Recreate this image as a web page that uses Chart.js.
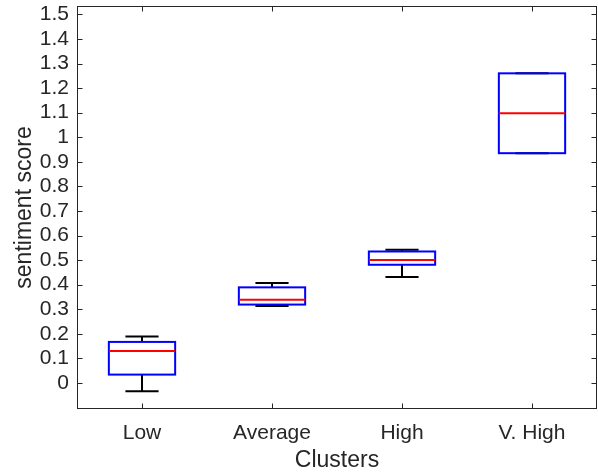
<!DOCTYPE html>
<html lang="en">
<head>
    <meta charset="UTF-8">
    <title>Clusters box plot</title>
    <script src="https://cdn.jsdelivr.net/npm/chart.js"></script>
    <style>
        body { margin: 0; background: #fff; }
    </style>
</head>
<body>
    <canvas id="boxChart" width="598" height="472"></canvas>

    <script>
        // data
        const clusters = ['Low', 'Average', 'High', 'V. High'];
        const lowerWhisker = [-0.034, 0.313, 0.431, 0.935];
        const q1 = [0.034, 0.319, 0.481, 0.935];
        const median = [0.130, 0.339, 0.500, 1.098];
        const q3 = [0.167, 0.389, 0.535, 1.260];
        const upperWhisker = [0.189, 0.407, 0.542, 1.260];
        const yTicks = [0, 0.1, 0.2, 0.3, 0.4, 0.5, 0.6, 0.7, 0.8, 0.9, 1, 1.1, 1.2, 1.3, 1.4, 1.5];

        const axisColor = '#262626';
        const fontFamily = '"Liberation Sans", Arial, sans-serif';

        // whiskers under the boxes, box outline + medians on top, frame + inward ticks last
        const boxPlotParts = {
            id: 'boxPlotParts',
            beforeDatasetsDraw(chart) {
                const ctx = chart.ctx;
                const x = chart.scales.x, y = chart.scales.y;
                const bars = chart.getDatasetMeta(0).data;
                ctx.save();
                ctx.strokeStyle = '#000';
                ctx.lineWidth = 2;
                clusters.forEach((c, i) => {
                    const cx = x.getPixelForValue(i);
                    const cap = bars[i].width / 4;
                    const pairs = [[q3[i], upperWhisker[i]], [q1[i], lowerWhisker[i]]];
                    pairs.forEach(([from, to]) => {
                        const yt = y.getPixelForValue(to);
                        ctx.beginPath();
                        ctx.moveTo(cx, y.getPixelForValue(from));
                        ctx.lineTo(cx, yt);
                        ctx.moveTo(cx - cap, yt);
                        ctx.lineTo(cx + cap, yt);
                        ctx.stroke();
                    });
                });
                ctx.restore();
            },
            afterDatasetsDraw(chart) {
                const ctx = chart.ctx;
                const y = chart.scales.y;
                const bars = chart.getDatasetMeta(0).data;
                ctx.save();
                ctx.lineWidth = 2;
                bars.forEach((bar, i) => {
                    const hw = bar.width / 2;
                    // box outline centred on q1 / q3 like MATLAB does
                    ctx.strokeStyle = '#0000ff';
                    ctx.strokeRect(bar.x - hw, bar.y, bar.width, bar.base - bar.y);
                    const ym = y.getPixelForValue(median[i]);
                    ctx.strokeStyle = '#ff0000';
                    ctx.beginPath();
                    ctx.moveTo(bar.x - hw, ym);
                    ctx.lineTo(bar.x + hw, ym);
                    ctx.stroke();
                });
                ctx.restore();
            },
            afterDraw(chart) {
                const ctx = chart.ctx;
                const a = chart.chartArea;
                const x = chart.scales.x, y = chart.scales.y;
                const L = Math.round(a.left) + 0.5, R = Math.round(a.right) - 0.5;
                const T = Math.round(a.top) + 0.5, B = Math.round(a.bottom) - 0.5;
                const tl = 5;
                ctx.save();
                ctx.strokeStyle = axisColor;
                ctx.lineWidth = 1;
                ctx.strokeRect(L, T, R - L, B - T);
                ctx.beginPath();
                yTicks.forEach(v => {
                    const py = Math.round(y.getPixelForValue(v)) + 0.5;
                    ctx.moveTo(L, py); ctx.lineTo(L + tl, py);
                    ctx.moveTo(R, py); ctx.lineTo(R - tl, py);
                });
                clusters.forEach((c, i) => {
                    const px = Math.round(x.getPixelForValue(i)) + 0.5;
                    ctx.moveTo(px, B); ctx.lineTo(px, B - tl);
                    ctx.moveTo(px, T); ctx.lineTo(px, T + tl);
                });
                ctx.stroke();
                ctx.restore();
            }
        };

        // keep the plot box where the reference has it
        function noOverflow(s) {
            s.paddingTop = 0;
            s.paddingBottom = 0;
            s.paddingLeft = 0;
            s.paddingRight = 0;
        }

        const data = {
            labels: clusters,
            datasets: [{
                label: 'box',
                data: clusters.map((c, i) => [q1[i], q3[i]]),
                backgroundColor: 'rgba(0,0,0,0)',
                borderColor: '#0000ff',
                borderWidth: 0,
                barPercentage: 0.51,
                categoryPercentage: 1
            }]
        };

        const config = {
            type: 'bar',
            data: data,
            options: {
                responsive: false,
                animation: false,
                layout: { padding: { top: 6, right: 1, left: 0, bottom: 0 } },
                plugins: {
                    legend: { display: false },
                    tooltip: { enabled: false }
                },
                scales: {
                    x: {
                        type: 'category',
                        grid: { display: false, drawTicks: false },
                        border: { display: false },
                        ticks: {
                            color: axisColor,
                            font: { family: fontFamily, size: 21 },
                            padding: 12,
                            autoSkip: false,
                            maxRotation: 0
                        },
                        title: {
                            display: true,
                            text: 'Clusters',
                            color: axisColor,
                            font: { family: fontFamily, size: 23, lineHeight: 1 },
                            padding: { top: 0, bottom: 0 }
                        },
                        afterFit: s => { s.height = 63; noOverflow(s); }
                    },
                    y: {
                        min: -0.106,
                        max: 1.534,
                        grid: { display: false, drawTicks: false },
                        border: { display: false },
                        afterBuildTicks: s => { s.ticks = yTicks.map(v => ({ value: v })); },
                        ticks: {
                            color: axisColor,
                            font: { family: fontFamily, size: 21 },
                            padding: 8,
                            autoSkip: false,
                            callback: v => String(Number(v.toFixed(1)))
                        },
                        title: {
                            display: true,
                            text: 'sentiment score',
                            color: axisColor,
                            font: { family: fontFamily, size: 23, lineHeight: 1 },
                            padding: { top: 13, bottom: 0 }
                        },
                        afterFit: s => { s.width = 77; noOverflow(s); }
                    }
                }
            },
            plugins: [boxPlotParts]
        };

        new Chart(document.getElementById('boxChart').getContext('2d'), config);
    </script>
</body>
</html>
